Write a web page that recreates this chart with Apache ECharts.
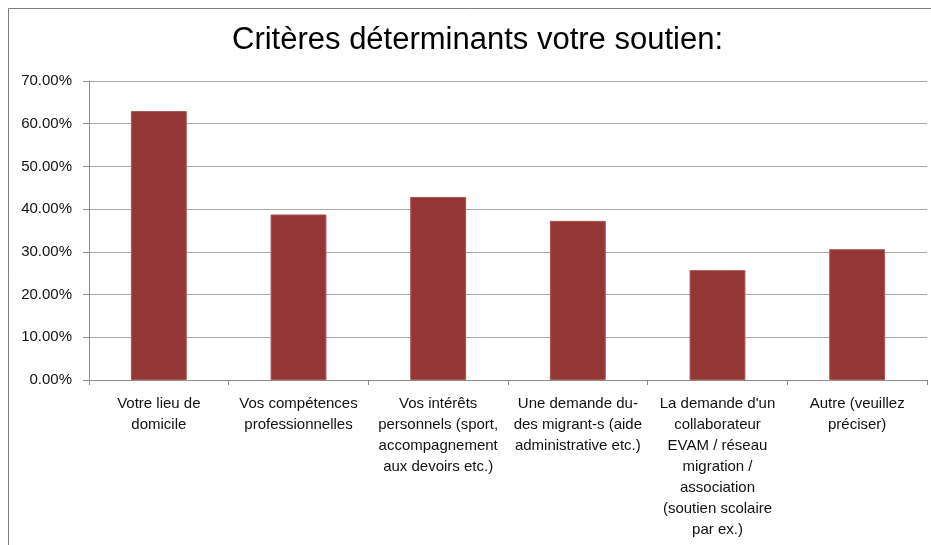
<!DOCTYPE html>
<html>
<head>
<meta charset="utf-8">
<script src="https://cdn.jsdelivr.net/npm/echarts@6/dist/echarts.min.js"></script>
<style>
html, body { margin: 0; padding: 0; background: #fff; }
#chart { width: 931px; height: 545px; }
</style>
</head>
<body>
<div id="chart"></div>
<script>
let titleText = 'Critères déterminants votre soutien:';
let categories = [
    'Votre lieu de\ndomicile',
    'Vos compétences\nprofessionnelles',
    'Vos intérêts\npersonnels (sport,\naccompagnement\naux devoirs etc.)',
    'Une demande du-\ndes migrant-s (aide\nadministrative etc.)',
    "La demande d'un\ncollaborateur\nEVAM / réseau\nmigration /\nassociation\n(soutien scolaire\npar ex.)",
    'Autre (veuillez\npréciser)'
];
let values = [62.96, 38.75, 42.86, 37.26, 25.72, 30.62];
let yMin = 0;
let yMax = 70;
let yStep = 10;

function setChart(){
    let myChart = echarts.init(document.getElementById('chart'));

    let option = {
        animation: false,
        backgroundColor: '#fff',
        textStyle: { fontFamily: 'Liberation Sans, Arial, sans-serif' },
        title: {
            text: titleText,
            left: 227,
            top: 20,
            textStyle: {
                fontFamily: 'Liberation Sans, Arial, sans-serif',
                fontSize: 31,
                fontWeight: 'normal',
                color: '#000'
            }
        },
        // cadre gris autour du graphique
        graphic: [{
            type: 'rect',
            shape: { x: 8.5, y: 8.5, width: 960, height: 600 },
            style: { fill: 'none', stroke: '#7f7f7f', lineWidth: 1 },
            silent: true
        }],
        grid: {
            left: 89,
            right: 4,
            top: 81,
            bottom: 165,
            containLabel: false
        },
        xAxis: {
            type: 'category',
            data: categories,
            axisLine: { lineStyle: { color: '#8c8c8c', width: 1 } },
            axisTick: { show: true, length: 5, alignWithLabel: false, lineStyle: { color: '#8c8c8c' } },
            axisLabel: {
                interval: 0,
                margin: 13,
                fontSize: 15,
                lineHeight: 21,
                color: '#111',
                fontFamily: 'Liberation Sans, Arial, sans-serif'
            }
        },
        yAxis: {
            type: 'value',
            min: yMin,
            max: yMax,
            interval: yStep,
            axisLine: { show: true, lineStyle: { color: '#8c8c8c', width: 1 } },
            axisTick: { show: true, length: 6, lineStyle: { color: '#8c8c8c' } },
            splitLine: { lineStyle: { color: '#a8a8a8', width: 1 } },
            axisLabel: {
                margin: 17,
                fontSize: 15,
                color: '#111',
                fontFamily: 'Liberation Sans, Arial, sans-serif',
                formatter: function (v) { return v.toFixed(2) + '%'; }
            }
        },
        series: [{
            name: titleText,
            type: 'bar',
            data: values,
            barWidth: '40%',
            itemStyle: {
                color: '#943634',
                borderColor: '#a85856',
                borderWidth: 1
            }
        }]
    };

    myChart.setOption(option);
}

window.onload = function (){
    setChart();
}
</script>
</body>
</html>
